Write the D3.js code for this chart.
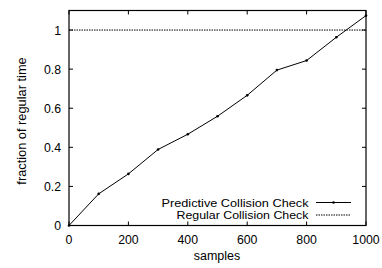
<!DOCTYPE html>
<html><head><meta charset="utf-8">
<script src="https://cdn.jsdelivr.net/npm/d3@7"></script>
<style>body{margin:0;background:#fff}svg{display:block}text{font-family:"Liberation Sans",Arial,sans-serif;fill:#000}</style>
</head><body>
<script>
const samples = [0,100,200,300,400,500,600,700,800,900,1000];
const predictive = [0,0.162,0.264,0.389,0.467,0.559,0.666,0.795,0.844,0.963,1.074];
const regular = [1,1];
const regularX = [0,1000];
const xTicks = [0,200,400,600,800,1000];
const yTicks = [0,0.2,0.4,0.6,0.8,1];
const yTickLabels = ["0","0.2","0.4","0.6","0.8","1"];

const W=382,H=268;
const m={l:69,r:16,t:10.5,b:42.5};
const svg=d3.select("body").append("svg").attr("width",W).attr("height",H);
const x=d3.scaleLinear().domain([0,1000]).range([m.l,W-m.r]);
const y=d3.scaleLinear().domain([0,1.1]).range([H-m.b,m.t]);

const g=svg.append("g");
const tl=4;
xTicks.forEach(v=>{
  g.append("line").attr("x1",x(v)).attr("x2",x(v)).attr("y1",y(0)).attr("y2",y(0)-tl).attr("stroke","#000");
  g.append("line").attr("x1",x(v)).attr("x2",x(v)).attr("y1",y(1.1)).attr("y2",y(1.1)+tl).attr("stroke","#000");
  g.append("text").attr("x",x(v)).attr("y",y(0)+18).attr("text-anchor","middle").attr("font-size",12.3).text(v);
});
yTicks.forEach((v,i)=>{
  g.append("line").attr("x1",x(0)).attr("x2",x(0)+tl).attr("y1",y(v)).attr("y2",y(v)).attr("stroke","#000");
  g.append("line").attr("x1",x(1000)).attr("x2",x(1000)-tl).attr("y1",y(v)).attr("y2",y(v)).attr("stroke","#000");
  g.append("text").attr("x",x(0)-8).attr("y",y(v)+4.5).attr("text-anchor","end").attr("font-size",12.3).text(yTickLabels[i]);
});

const line=d3.line().x(d=>x(d[0])).y(d=>y(d[1]));
g.append("path").attr("d",line(regularX.map((v,i)=>[v,regular[i]]))).attr("fill","none").attr("stroke","#000").attr("stroke-width",1).attr("stroke-dasharray","1.5,1");
const pdata=samples.map((s,i)=>[s,predictive[i]]);
g.append("path").attr("d",line(pdata)).attr("fill","none").attr("stroke","#000").attr("stroke-width",1);
g.selectAll("circle.p").data(pdata).enter().append("circle").attr("cx",d=>x(d[0])).attr("cy",d=>y(d[1])).attr("r",1.3).attr("fill","#000");

g.append("rect").attr("x",x(0)).attr("y",y(1.1)).attr("width",x(1000)-x(0)).attr("height",y(0)-y(1.1)).attr("fill","none").attr("stroke","#000").attr("stroke-width",1.2);

// legend
const lx2=x(1000)-15, lx1=316;
const ly=[202.5,215];
const lfs=11.3;
g.append("text").attr("x",308.5).attr("y",ly[0]+4.1).attr("text-anchor","end").attr("font-size",lfs).attr("textLength",147).attr("lengthAdjust","spacingAndGlyphs").text("Predictive Collision Check");
g.append("line").attr("x1",lx1).attr("x2",lx2).attr("y1",ly[0]).attr("y2",ly[0]).attr("stroke","#000");
g.append("circle").attr("cx",(lx1+lx2)/2).attr("cy",ly[0]).attr("r",1.3).attr("fill","#000");
g.append("text").attr("x",308.5).attr("y",ly[1]+4.1).attr("text-anchor","end").attr("font-size",lfs).attr("textLength",132).attr("lengthAdjust","spacingAndGlyphs").text("Regular Collision Check");
g.append("line").attr("x1",lx1).attr("x2",lx2).attr("y1",ly[1]).attr("y2",ly[1]).attr("stroke","#000").attr("stroke-dasharray","1.5,1");

g.append("text").attr("x",217).attr("y",H-8).attr("text-anchor","middle").attr("font-size",12.5).text("samples");
g.append("text").attr("transform",`translate(26,121) rotate(-90)`).attr("text-anchor","middle").attr("font-size",12.8).text("fraction of regular time");
</script>
</body></html>
